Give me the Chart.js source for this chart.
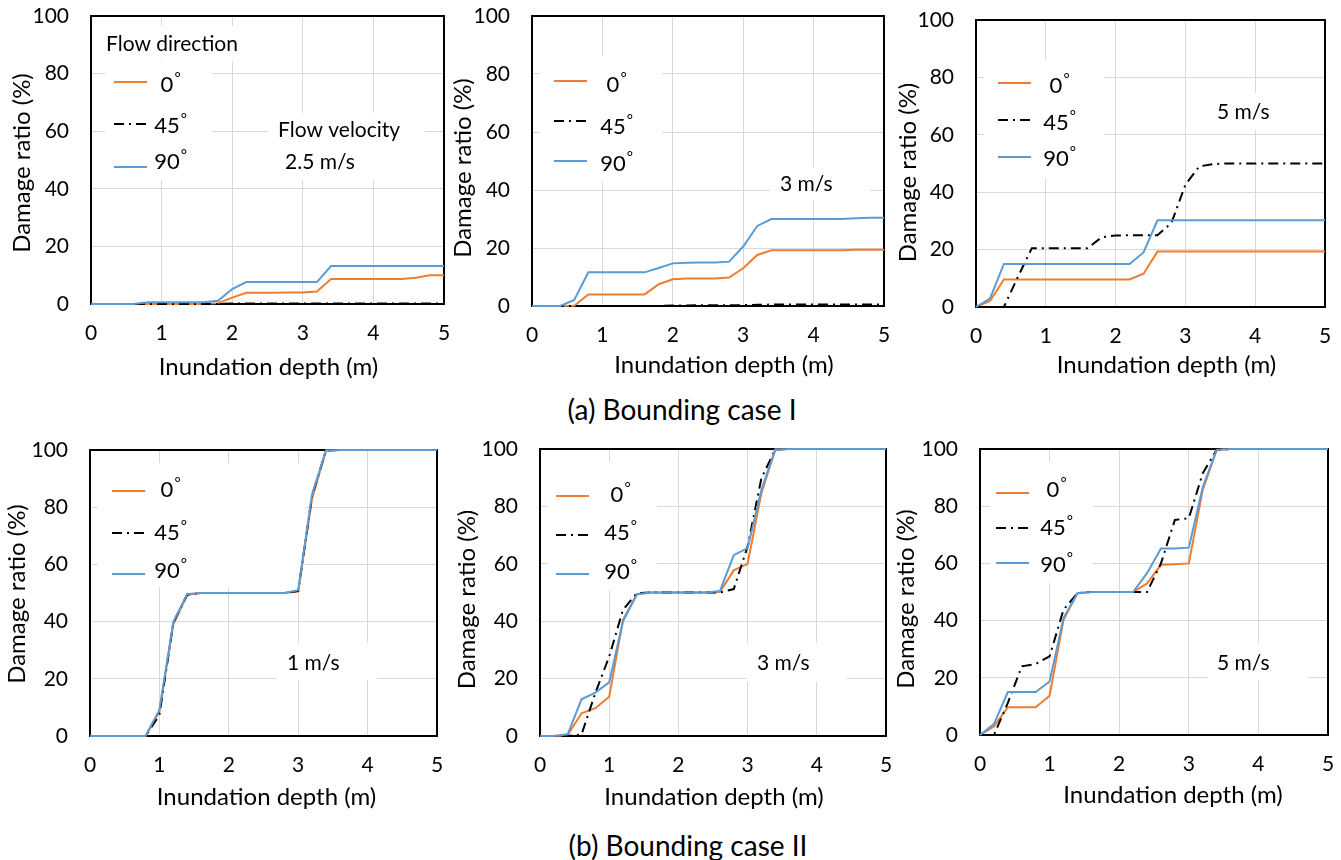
<!DOCTYPE html>
<html>
<head>
<meta charset="utf-8">
<script src="https://cdn.jsdelivr.net/npm/chart.js@4.4.0/dist/chart.umd.min.js"></script>
<style>
  body { margin: 0; width: 1341px; height: 860px; background: #fff; position: relative; overflow: hidden; font-family: Lato, sans-serif; }
  canvas { position: absolute; }
  .caption { position: absolute; font-size: 28px; line-height: 34px; color: #000; transform: translateX(-50%); white-space: nowrap; }
</style>
</head>
<body>
<canvas id="p1"></canvas>
<canvas id="p2"></canvas>
<canvas id="p3"></canvas>
<canvas id="p4"></canvas>
<canvas id="p5"></canvas>
<canvas id="p6"></canvas>
<div class="caption" style="left:682px; top:392px;">(a) Bounding case I</div>
<div class="caption" style="left:688px; top:828px;">(b) Bounding case II</div>

<script>
// inundation depth (m), same for every panel
const depth = [0, 0.2, 0.4, 0.6, 0.8, 1, 1.2, 1.4, 1.6, 1.8, 2, 2.2, 2.4, 2.6, 2.8, 3, 3.2, 3.4, 3.6, 3.8, 4, 4.2, 4.4, 4.6, 4.8, 5];
const xTicks = [0, 1, 2, 3, 4, 5];
const yTicks = [0, 20, 40, 60, 80, 100];
const directions = ["0", "45", "90"];

// (a) bounding case I - damage ratio (%)
const a25_0  = [0, 0, 0, 0, 0, 0, 0, 0, 0, 0.3, 2.2, 3.9, 3.9, 3.9, 4.0, 4.0, 4.3, 8.7, 8.7, 8.7, 8.7, 8.7, 8.7, 9.1, 10.0, 10.0];
const a25_45 = [0, 0, 0, 0, 0, 0, 0, 0, 0, 0, 0.2, 0.2, 0.2, 0.2, 0.2, 0.2, 0.2, 0.2, 0.2, 0.2, 0.2, 0.2, 0.2, 0.2, 0.2, 0.2];
const a25_90 = [0, 0, 0, 0, 0.6, 0.6, 0.6, 0.6, 0.6, 1.1, 5.2, 7.6, 7.6, 7.6, 7.6, 7.6, 7.6, 13.2, 13.2, 13.2, 13.2, 13.2, 13.2, 13.2, 13.2, 13.2];

const a3_0  = [0, 0, 0, 0.1, 4.0, 4.0, 4.0, 4.0, 4.0, 7.5, 9.2, 9.5, 9.5, 9.5, 9.8, 13.0, 17.6, 19.2, 19.2, 19.2, 19.2, 19.2, 19.2, 19.4, 19.4, 19.4];
const a3_45 = [0, 0, 0, 0, 0, 0, 0, 0, 0, 0, 0.2, 0.2, 0.3, 0.3, 0.3, 0.3, 0.4, 0.5, 0.5, 0.5, 0.5, 0.5, 0.5, 0.5, 0.5, 0.5];
const a3_90 = [0, 0, 0, 2.1, 11.6, 11.6, 11.6, 11.6, 11.6, 13.1, 14.7, 14.9, 15.0, 15.0, 15.3, 20.5, 27.6, 30.0, 30.0, 30.0, 30.0, 30.0, 30.0, 30.3, 30.4, 30.4];

const a5_0  = [0, 2.1, 9.6, 9.6, 9.6, 9.6, 9.6, 9.6, 9.6, 9.6, 9.6, 9.6, 11.6, 19.3, 19.3, 19.3, 19.3, 19.3, 19.3, 19.3, 19.3, 19.3, 19.3, 19.3, 19.3, 19.3];
const a5_45 = [0, 0, 0, 10.5, 20.5, 20.5, 20.5, 20.5, 20.5, 24.3, 24.9, 25, 25, 25, 29.3, 42.6, 49, 49.8, 50, 50, 50, 50, 50, 50, 50, 50];
const a5_90 = [0, 2.9, 15, 15, 15, 15, 15, 15, 15, 15, 15, 15, 19, 30.2, 30.2, 30.2, 30.2, 30.2, 30.2, 30.2, 30.2, 30.2, 30.2, 30.2, 30.2, 30.2];

// (b) bounding case II
const b1_0  = [0, 0, 0, 0, 0, 8.5, 39, 49.4, 50, 50, 50, 50, 50, 50, 50, 50.7, 83, 99.8, 100, 100, 100, 100, 100, 100, 100, 100];
const b1_45 = [0, 0, 0, 0, 0, 7.3, 39.6, 49.4, 50, 50, 50, 50, 50, 50, 50, 50.7, 84, 99.8, 100, 100, 100, 100, 100, 100, 100, 100];
const b1_90 = [0, 0, 0, 0, 0, 9.1, 39.8, 49.6, 50, 50, 50, 50, 50, 50, 50, 51, 84.5, 99.8, 100, 100, 100, 100, 100, 100, 100, 100];

const b3_0  = [0, 0, 0.3, 7.9, 9.7, 13.7, 40.5, 49.4, 50, 50, 50, 50, 50, 50.2, 57.7, 60, 84.7, 99.8, 100, 100, 100, 100, 100, 100, 100, 100];
const b3_45 = [0, 0, 0, 0.5, 15, 27.7, 44, 49.8, 50, 50, 50, 50, 50, 50, 51.2, 66, 89.9, 99.8, 100, 100, 100, 100, 100, 100, 100, 100];
const b3_90 = [0, 0, 0.6, 12.8, 15.1, 18.7, 40, 49.4, 50, 50, 50, 50, 50, 50.5, 63, 65.5, 85.8, 99.8, 100, 100, 100, 100, 100, 100, 100, 100];

const b5_0  = [0, 3.0, 9.7, 9.7, 9.7, 13.7, 40.3, 49.6, 50, 50, 50, 50, 53, 59.5, 59.7, 60, 85.7, 99.7, 100, 100, 100, 100, 100, 100, 100, 100];
const b5_45 = [0, 0, 11.2, 24, 24.8, 27.5, 43.8, 49.6, 50, 50, 50, 50, 50, 60, 75.2, 75.8, 91.5, 99.7, 100, 100, 100, 100, 100, 100, 100, 100];
const b5_90 = [0, 3.8, 15, 15, 15, 18.7, 40.9, 49.6, 50, 50, 50, 50, 56.6, 65.2, 65.2, 65.5, 86.6, 99.7, 100, 100, 100, 100, 100, 100, 100, 100];

const orange = "#ED7D31";
const blue = "#5B9BD5";
const dashDot = [10, 5, 2, 5];
const FONT = "Lato";

// plot boxes on the page and the texts inside each panel (offsets from the plot's top-left)
const panels = [
  { id: "p1", plot: [91, 16, 444, 304], data: [a25_0, a25_45, a25_90],
    boxes: [[7, 10, 149, 45], [14, 46, 121, 164], [177, 97, 334, 164]],
    lineX: 23, lineY: [66, 108, 151], labelX: 76, labelY: [69, 110, 146],
    notes: [["Flow direction", 15, 28], ["Flow velocity", 187, 114], ["2.5 m/s", 194, 146]],
    yTitle: [-69, 3], xTitle: [1, 63] },
  { id: "p2", plot: [532, 16, 884, 306], data: [a3_0, a3_45, a3_90],
    boxes: [[8, 40, 130, 166], [238, 151, 338, 184]],
    lineX: 22, lineY: [65, 105, 145], labelX: 81, labelY: [69, 111, 148],
    notes: [["3 m/s", 248, 168]],
    yTitle: [-69, 7], xTitle: [16, 59] },
  { id: "p3", plot: [976, 20, 1325, 307], data: [a5_0, a5_45, a5_90],
    boxes: [[8, 40, 128, 158], [232, 73, 337, 110]],
    lineX: 22, lineY: [63, 100, 137], labelX: 80, labelY: [66, 103, 139],
    notes: [["5 m/s", 241, 92]],
    yTitle: [-68, 9], xTitle: [16, 58] },
  { id: "p4", plot: [90, 450, 437, 736], data: [b1_0, b1_45, b1_90],
    boxes: [[8, 13, 215, 137], [187, 193, 287, 230]],
    lineX: 22, lineY: [41, 83, 124], labelX: 77, labelY: [40, 83, 121],
    notes: [["1 m/s", 197, 213]],
    yTitle: [-73, 1], xTitle: [3, 61] },
  { id: "p5", plot: [540, 449, 886, 736], data: [b3_0, b3_45, b3_90],
    boxes: [[8, 13, 117, 141], [207, 194, 307, 233]],
    lineX: 16, lineY: [47, 86, 125], labelX: 77, labelY: [46, 84, 123],
    notes: [["3 m/s", 217, 214]],
    yTitle: [-73, 7], xTitle: [1, 61] },
  { id: "p6", plot: [980, 449, 1328, 735], data: [b5_0, b5_45, b5_90],
    boxes: [[10, 13, 113, 134], [228, 194, 327, 231]],
    lineX: 16, lineY: [44, 79, 114], labelX: 73, labelY: [41, 79, 116],
    notes: [["5 m/s", 237, 214]],
    yTitle: [-74, 7], xTitle: [19, 60] }
];

const AXIS_W = 90, AXIS_H = 80, PAD_T = 16, PAD_R = 12;

function text(ctx, str, x, y, size) {
  ctx.font = size + "px " + FONT;
  ctx.fillStyle = "#000";
  ctx.textAlign = "left";
  ctx.textBaseline = "middle";
  ctx.fillText(str, x, y);
}

const panelDeco = {
  id: "panelDeco",
  beforeDatasetsDraw(chart, args, p) {
    const ctx = chart.ctx;
    const a = chart.chartArea;
    ctx.save();
    // white text boxes over the grid
    ctx.fillStyle = "#fff";
    p.boxes.forEach(b => ctx.fillRect(a.left + b[0], a.top + b[1], b[2] - b[0], b[3] - b[1]));
    // plot area frame
    ctx.strokeStyle = "#000";
    ctx.lineWidth = 2;
    ctx.strokeRect(a.left, a.top, a.right - a.left, a.bottom - a.top);
    ctx.restore();
  },
  afterDatasetsDraw(chart, args, p) {
    const ctx = chart.ctx;
    const a = chart.chartArea;
    ctx.save();
    // legend
    const styles = [[orange, []], ["#000", dashDot], [blue, []]];
    directions.forEach((d, i) => {
      const y = a.top + p.lineY[i];
      ctx.strokeStyle = styles[i][0];
      ctx.setLineDash(styles[i][1]);
      ctx.lineWidth = 2;
      ctx.beginPath();
      ctx.moveTo(a.left + p.lineX, y);
      ctx.lineTo(a.left + p.lineX + 33, y);
      ctx.stroke();
      ctx.setLineDash([]);
      ctx.font = "22px " + FONT;
      const w = ctx.measureText(d).width;
      const x0 = a.left + p.labelX - w / 2;
      const ly = a.top + p.labelY[i];
      text(ctx, d, x0, ly, 22);
      ctx.font = "15px " + FONT;
      ctx.textBaseline = "alphabetic";
      ctx.fillText("°", x0 + w + 1, ly - 2.5);
    });
    p.notes.forEach(n => text(ctx, n[0], a.left + n[1], a.top + n[2], 21));
    // axis titles
    ctx.font = "24px " + FONT;
    ctx.textAlign = "center";
    ctx.textBaseline = "middle";
    ctx.fillText("Inundation depth (m)", (a.left + a.right) / 2 + p.xTitle[0], a.bottom + p.xTitle[1]);
    ctx.translate(a.left + p.yTitle[0], (a.top + a.bottom) / 2 + p.yTitle[1]);
    ctx.rotate(-Math.PI / 2);
    ctx.fillText("Damage ratio (%)", 0, 0);
    ctx.restore();
  }
};

function fixAxis(size, key) {
  return function (scale) {
    scale[key] = size;
    scale.paddingLeft = 0; scale.paddingRight = 0;
    scale.paddingTop = 0; scale.paddingBottom = 0;
  };
}

panels.forEach(p => {
  const [l, t, r, b] = p.plot;
  const canvas = document.getElementById(p.id);
  canvas.width = r - l + AXIS_W + PAD_R;
  canvas.height = b - t + PAD_T + AXIS_H;
  canvas.style.left = (l - AXIS_W) + "px";
  canvas.style.top = (t - PAD_T) + "px";

  const series = [
    { label: "0°", values: p.data[0], color: orange, dash: [], order: 2 },
    { label: "45°", values: p.data[1], color: "#000", dash: dashDot, order: 1 },
    { label: "90°", values: p.data[2], color: blue, dash: [], order: 0 }
  ];

  new Chart(canvas, {
    type: "line",
    data: {
      datasets: series.map(s => ({
        label: s.label,
        data: depth.map((x, i) => ({ x: x, y: s.values[i] })),
        borderColor: s.color,
        borderDash: s.dash,
        borderWidth: 2,
        pointRadius: 0,
        tension: 0,
        clip: false,
        order: s.order
      }))
    },
    options: {
      responsive: false,
      animation: false,
      devicePixelRatio: 1,
      layout: { padding: { left: 0, top: PAD_T, right: PAD_R, bottom: 0 } },
      plugins: { legend: { display: false }, tooltip: { enabled: false }, panelDeco: p },
      scales: {
        x: {
          type: "linear", min: 0, max: 5,
          afterBuildTicks: s => { s.ticks = xTicks.map(v => ({ value: v })); },
          ticks: { color: "#000", padding: 17, font: { family: FONT, size: 21 } },
          grid: { color: "#d9d9d9", lineWidth: 1, drawTicks: false },
          border: { display: false },
          afterFit: fixAxis(AXIS_H, "height")
        },
        y: {
          min: 0, max: 100,
          afterBuildTicks: s => { s.ticks = yTicks.map(v => ({ value: v })); },
          ticks: { color: "#000", padding: 22, font: { family: FONT, size: 21 } },
          grid: { color: "#d9d9d9", lineWidth: 1, drawTicks: false },
          border: { display: false },
          afterFit: fixAxis(AXIS_W, "width")
        }
      }
    },
    plugins: [panelDeco]
  });
});
</script>
</body>
</html>
